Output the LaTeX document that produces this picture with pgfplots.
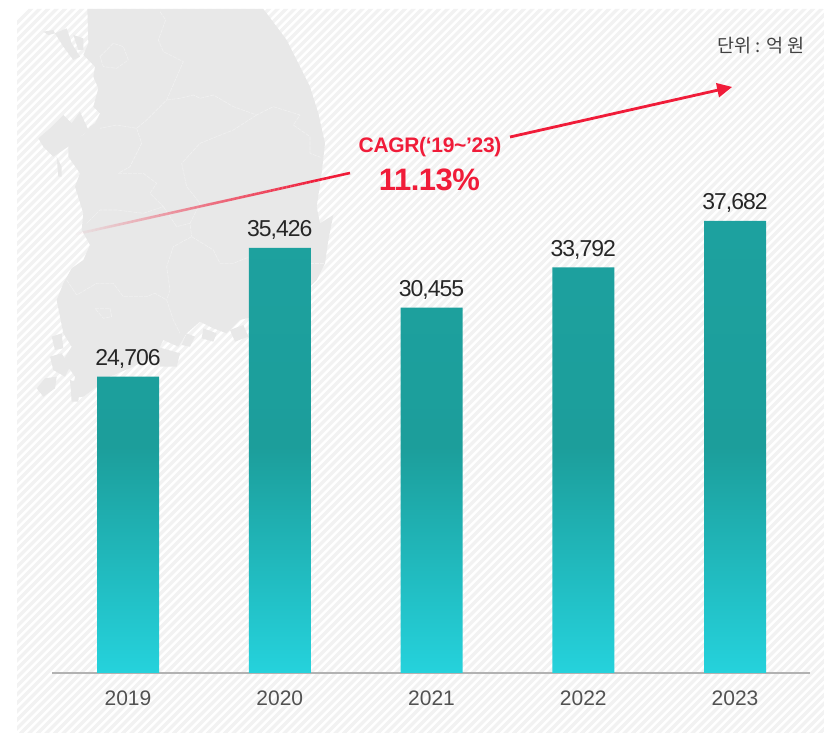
\documentclass[border=0pt]{standalone}
\usepackage{pgfplots}
\pgfplotsset{compat=1.18}
\usepackage{fontspec}
\setmainfont{Liberation Sans}
\newfontfamily\kr{Noto Sans CJK KR}
\newfontfamily\valfont[LetterSpace=-4.5]{Liberation Sans}
\newfontfamily\tickfont{Liberation Sans}
\newfontfamily\redfont[LetterSpace=-1.5]{Liberation Sans}
\definecolor{stripe}{HTML}{F2F2F2}
\definecolor{mapc}{HTML}{E8E8E8}
\definecolor{mapl}{HTML}{F1F1F1}
\definecolor{cagr}{HTML}{F01C39}
\begin{document}
\begin{tikzpicture}[x=1pt,y=1pt]
\path[use as bounding box] (0,0) rectangle (824,733);
% hatched panel (pixel coordinates: y measured from the top)
\begin{scope}[yshift=733pt,y=-1pt]
\begin{scope}
\clip[rounded corners=3pt] (17,9) rectangle (826,733);
\foreach \k in {0,8.5,...,1540}{
  \draw[stripe,line width=3.2pt] (\k-700,740) -- (\k+40,0);
}
\end{scope}
\end{scope}
% map, traced in 3x zoom coordinates
\begin{scope}[yshift=733pt,x=0.33333pt,y=-0.33333pt]
\fill[mapc] (262,27) -- (790,27) -- (815,60) -- (860,120) -- (890,180) -- (930,260) -- (955,340)
 -- (975,430) -- (965,520) -- (950,620) -- (960,670) -- (1000,645) -- (985,720) -- (975,790) -- (950,840)
 -- (900,890) -- (850,925) -- (780,945) -- (720,960) -- (680,1000) -- (640,985) -- (600,965) -- (560,1000)
 -- (535,1040) -- (490,1020) -- (470,1060) -- (400,1100) -- (330,1130) -- (290,1160) -- (250,1190) -- (215,1195)
 -- (225,1130) -- (190,1080) -- (215,1040) -- (190,1000) -- (170,900) -- (190,850) -- (215,805) -- (250,780)
 -- (270,735) -- (245,690) -- (250,640) -- (225,560) -- (240,520) -- (205,470) -- (205,430) -- (250,405)
 -- (270,380) -- (285,370) -- (300,340) -- (280,320) -- (295,265) -- (280,230) -- (285,200) -- (250,165)
 -- (265,130) -- (262,27) -- cycle;
% west coast fragments and islands
\fill[mapc] (165,100) -- (200,85) -- (215,130) -- (240,170) -- (220,180) -- (190,140) -- cycle;
\fill[mapc] (220,105) -- (250,115) -- (250,150) -- (235,150) -- cycle;
\fill[mapc] (130,95) -- (160,90) -- (165,100) -- (145,105) -- cycle;
\fill[mapc] (115,415) -- (150,385) -- (190,345) -- (215,370) -- (240,335) -- (265,390) -- (205,440) -- (160,470) -- (130,440) -- cycle;
\fill[mapc] (170,470) -- (185,500) -- (185,530) -- (175,530) -- cycle;
\fill[mapc] (110,1165) -- (135,1135) -- (170,1130) -- (165,1165) -- (130,1190) -- cycle;
\fill[mapc] (150,1070) -- (185,1060) -- (210,1100) -- (195,1130) -- (160,1110) -- cycle;
\fill[mapc] (300,400) -- (320,350) -- (350,345) -- (340,385) -- cycle;
\fill[mapc] (470,1040) -- (540,1060) -- (530,1100) -- (480,1100) -- cycle;
\fill[mapc] (560,1000) -- (585,1010) -- (570,1040) -- (545,1035) -- cycle;
\fill[mapc] (610,985) -- (650,1000) -- (640,1025) -- (605,1015) -- cycle;
\fill[mapc] (690,990) -- (730,975) -- (745,1010) -- (705,1025) -- cycle;
\fill[mapc] (770,950) -- (810,945) -- (800,985) -- (770,980) -- cycle;
\fill[mapc] (210,1140) -- (240,1150) -- (235,1205) -- (215,1205) -- cycle;
\fill[mapc] (155,1010) -- (185,1000) -- (190,1045) -- (165,1050) -- cycle;
% provinces
\begin{scope}[mapl,line width=0.6pt,line join=round,dash pattern=on 4pt off 1pt]
\draw (480,35) -- (497,60) -- (475,120) -- (490,155) -- (550,185) -- (500,300) -- (440,360) -- (410,385) -- (350,375) -- (300,385);
\draw (500,300) -- (540,295) -- (580,285) -- (600,295) -- (640,285) -- (700,320) -- (770,345) -- (820,320) -- (900,345) -- (880,375) -- (930,410) -- (930,460) -- (962,472);
\draw (770,345) -- (700,390) -- (650,410) -- (600,430) -- (545,490) -- (560,560) -- (600,610) -- (570,670) -- (575,710);
\draw (410,385) -- (425,430) -- (390,500) -- (355,520) -- (430,520) -- (470,550) -- (450,580) -- (490,620) -- (430,640) -- (350,630) -- (300,630) -- (260,670);
\draw (490,620) -- (530,680) -- (570,670);
\draw (575,710) -- (520,740) -- (500,800) -- (510,870) -- (500,900) -- (520,960) -- (540,1000);
\draw (575,710) -- (640,750) -- (660,790) -- (700,790) -- (750,770);
\draw (930,790) -- (975,790);
\draw (200,840) -- (230,885) -- (290,850) -- (340,850) -- (370,890) -- (440,890) -- (465,880) -- (500,900);
\draw (300,170) -- (340,130) -- (370,140) -- (385,180) -- (350,205) -- (310,200) -- cycle;
\draw (285,925) -- (330,925) -- (335,950) -- (310,955) -- cycle;
\end{scope}
\end{scope}
\begin{axis}[
  at={(52pt,60pt)},anchor=south west,
  scale only axis,width=758pt,height=664pt,
  xmin=-0.5008,xmax=4.494,ymin=0,ymax=55333,
  axis y line=none,
  axis x line=bottom,
  axis line style={draw=black!30,line width=2pt,-},
  xtick={0,1,2,3,4},
  xticklabels={2019,2020,2021,2022,2023},
  x tick style={draw=none},
  x tick label style={font=\tickfont\fontsize{21}{24}\selectfont,text=black!68,yshift=-10pt},
  clip=false,
  ybar,
  bar width=62pt,
  nodes near coords,
  nodes near coords align={vertical},
  every node near coord/.append style={font=\valfont\fontsize{23}{25}\selectfont,text=black!85,inner ysep=8pt,
    /pgf/number format/fixed,/pgf/number format/1000 sep={,},/pgf/number format/assume math mode=true},
]
\addplot[bar shift=0pt,draw=none,top color={rgb,255:red,29;green,161;blue,159},bottom color={rgb,255:red,37;green,210;blue,220},middle color={rgb,255:red,28;green,158;blue,155}]
  coordinates {(0,24706) (1,35426) (2,30455) (3,33792) (4,37682)};
\end{axis}
% CAGR arrow
\begin{scope}[yshift=733pt,y=-1pt]
\foreach \i in {0,...,69}{
  \pgfmathsetmacro\ta{\i/70}
  \pgfmathsetmacro\tb{(\i+1)/70}
  \pgfmathsetmacro\op{min(1,\ta*1.15)}
  \draw[cagr,opacity=\op,line width=2.6pt] ({72+278*\ta},{235-62*\ta}) -- ({72+278*\tb},{235-62*\tb});
}
\draw[cagr,line width=2.8pt] (510,137) -- (722,89.2);
\fill[cagr] (732,87) -- (716,83) -- (719,97.5) -- cycle;
\node[text=cagr,font=\redfont\bfseries\fontsize{21}{23}\selectfont] at (430,147) {CAGR(‘19\char"7E’23)};
\node[text=cagr,font=\redfont\bfseries\fontsize{31}{33}\selectfont] at (429.5,180) {11.13\%};
\node[text=black!75,font=\kr\fontsize{18.5}{20}\selectfont,anchor=east] at (808,46) {단위 : 억 원};
\end{scope}
\end{tikzpicture}
\end{document}
